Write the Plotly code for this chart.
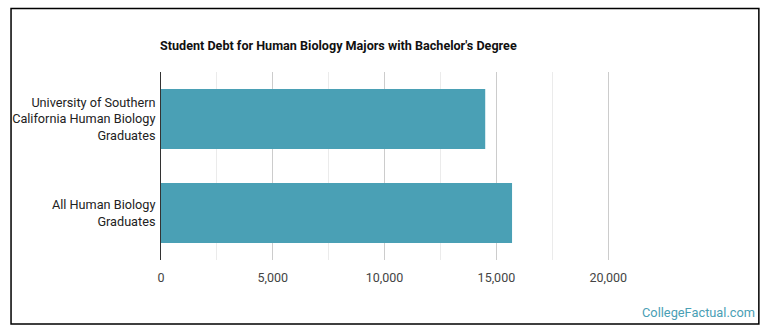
import plotly.graph_objects as go

categories = ["University of Southern<br>California Human Biology<br>Graduates",
              "All Human Biology<br>Graduates"]
values = [14500, 15700]
tick_vals = [0, 5000, 10000, 15000, 20000]
tick_text = ["0", "5,000", "10,000", "15,000", "20,000"]
title = "Student Debt for Human Biology Majors with Bachelor's Degree"
bar_color = "#4aa0b5"

L, R, T, B = 159, 720, 72, 260
W, H = 770, 335

def px(x):
    return (x - L) / (R - L)

def py(y):
    return (B - y) / (B - T)

fig = go.Figure(go.Bar(
    y=categories, x=values, orientation="h",
    marker=dict(color=bar_color, line=dict(width=0)),
    width=0.64, hoverinfo="skip"))

fig.update_layout(
    width=W, height=H,
    margin=dict(l=L, r=W - R, t=T, b=H - B, pad=0),
    paper_bgcolor="white", plot_bgcolor="white",
    font=dict(family="Roboto, Arial, sans-serif", size=12, color="#444"),
    showlegend=False,
    xaxis=dict(range=[0, 25000], tickvals=tick_vals, ticktext=tick_text,
               showgrid=True, gridcolor="#cccccc", gridwidth=1,
               zeroline=False, showline=False, ticks="",
               tickfont=dict(size=12.5, color="#444"), ticklabelstandoff=8,
               minor=dict(tickvals=[2500, 7500, 12500, 17500], showgrid=True,
                          gridcolor="#ebebeb", gridwidth=1, ticks="")),
    yaxis=dict(autorange="reversed", showgrid=False, zeroline=False,
               showline=True, linecolor="#333", linewidth=1, ticks="",
               tickfont=dict(size=12.7, color="#222"), ticklabelstandoff=2),
    shapes=[dict(type="rect", xref="paper", yref="paper",
                 x0=px(8.5), x1=px(759), y0=py(324), y1=py(8.5),
                 line=dict(color="black", width=1.5), fillcolor="rgba(0,0,0,0)")],
    annotations=[
        dict(text="<b>" + title + "</b>", xref="paper", yref="paper",
             x=px(155.5), y=py(45), xanchor="left", yanchor="middle", showarrow=False,
             font=dict(size=12.6, color="#111")),
        dict(text="CollegeFactual.com", xref="paper", yref="paper",
             x=px(757), y=py(312), xanchor="right", yanchor="middle",
             showarrow=False, font=dict(size=12.8, color=bar_color)),
    ],
)

fig.write_html("out.html")
